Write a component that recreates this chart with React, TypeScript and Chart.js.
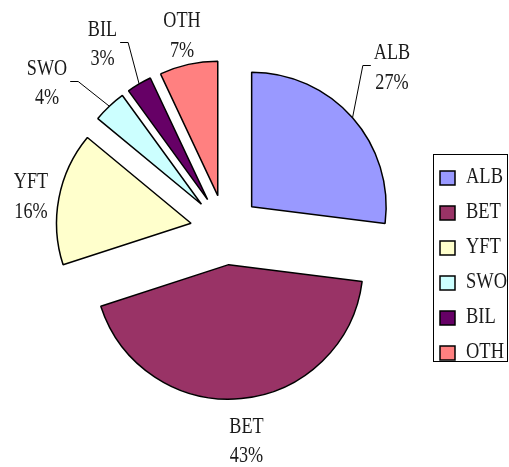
import React, { useEffect, useRef } from "react";
import { Chart, registerables } from "chart.js";

Chart.register(...registerables);

// ---- data ----
const categories = ["ALB", "BET", "YFT", "SWO", "BIL", "OTH"];
const shares = [27, 43, 16, 4, 3, 7];
const colors = ["#9999FF", "#993366", "#FFFFCC", "#CCFFFF", "#660066", "#FF8080"];

// ---- layout / style ----
const EXPLODE = 35;
const LABEL_FONT = '23px "Liberation Serif"';
const LEGEND_FONT = '24px "Liberation Serif"';
const SX_LABEL = 0.79;
const SX_LEGEND = 0.77;
const TEXT_COLOR = "#1a1a1a";
// label block centre offsets from the pie centre; leader flag
const labelLayout = [
  { dx: 166.6, dy: -163.3, leader: true },
  { dx: 21.1, dy: 210.2, leader: false },
  { dx: -194.4, dy: -34.3, leader: false },
  { dx: -178.4, dy: -147.8, leader: true },
  { dx: -122.9, dy: -186.8, leader: true },
  { dx: -43.4, dy: -195.3, leader: false },
];

function drawText(ctx: CanvasRenderingContext2D, text: string, x: number, y: number, align: CanvasTextAlign, sx: number) {
  ctx.save();
  ctx.translate(x, y);
  ctx.scale(sx, 1);
  ctx.textAlign = align;
  ctx.textBaseline = "alphabetic";
  ctx.fillText(text, 0, 0);
  ctx.restore();
}

const explodePlugin = {
  id: "explode",
  beforeDatasetsDraw(chart: any) {
    const ctx = chart.ctx as CanvasRenderingContext2D;
    const meta = chart.getDatasetMeta(0);
    meta.data.forEach((arc: any) => {
      const mid = (arc.startAngle + arc.endAngle) / 2;
      ctx.save();
      ctx.translate(Math.cos(mid) * EXPLODE, Math.sin(mid) * EXPLODE);
      arc.draw(ctx);
      ctx.restore();
    });
    return false;
  },
};

const labelPlugin = {
  id: "pieLabels",
  afterDraw(chart: any) {
    const ctx = chart.ctx as CanvasRenderingContext2D;
    const meta = chart.getDatasetMeta(0);
    const total = shares.reduce((a, b) => a + b, 0);
    ctx.save();
    ctx.font = LABEL_FONT;
    ctx.fillStyle = TEXT_COLOR;
    ctx.strokeStyle = "#000";
    ctx.lineWidth = 1;
    meta.data.forEach((arc: any, i: number) => {
      const { x, y, startAngle, endAngle, outerRadius } = arc.getProps(
        ["x", "y", "startAngle", "endAngle", "outerRadius"],
        true
      );
      const mid = (startAngle + endAngle) / 2;
      const lay = labelLayout[i];
      const cx = x + lay.dx;
      const cy = y + lay.dy;
      const name = categories[i];
      const pct = Math.round((shares[i] / total) * 100) + "%";
      drawText(ctx, name, cx, cy - 7.5, "center", SX_LABEL);
      drawText(ctx, pct, cx, cy + 22, "center", SX_LABEL);
      if (lay.leader) {
        const w = Math.max(ctx.measureText(name).width, ctx.measureText(pct).width) * SX_LABEL;
        const ex = x + Math.cos(mid) * EXPLODE;
        const ey = y + Math.sin(mid) * EXPLODE;
        const sx = ex + Math.cos(mid) * outerRadius;
        const sy = ey + Math.sin(mid) * outerRadius;
        const right = lay.dx > 0;
        const edge = right ? cx - w / 2 : cx + w / 2;
        const elbowX = right ? edge - 11 : edge + 11;
        const endX = right ? edge - 3 : edge + 3;
        const ly = Math.round(cy - 1.5) + 0.5;
        ctx.beginPath();
        ctx.moveTo(sx, sy);
        ctx.lineTo(elbowX, ly);
        ctx.lineTo(endX, ly);
        ctx.stroke();
      }
    });
    ctx.restore();

    // legend
    ctx.save();
    ctx.strokeStyle = "#000";
    ctx.lineWidth = 1;
    ctx.strokeRect(433.5, 154.5, 74, 207);
    ctx.font = LEGEND_FONT;
    categories.forEach((c, i) => {
      const top = 171 + i * 35;
      ctx.fillStyle = colors[i];
      ctx.fillRect(440, top, 15, 14);
      ctx.lineWidth = 1.5;
      ctx.strokeStyle = "#000";
      ctx.strokeRect(440, top, 15, 14);
      ctx.fillStyle = TEXT_COLOR;
      drawText(ctx, c, 466, top + 11.5, "left", SX_LEGEND);
    });
    ctx.restore();
  },
};

export default function App() {
  const ref = useRef<HTMLCanvasElement | null>(null);
  useEffect(() => {
    if (!ref.current) return;
    const chart = new Chart(ref.current, {
      type: "pie",
      data: {
        labels: categories,
        datasets: [
          {
            data: shares,
            backgroundColor: colors,
            borderColor: "#000",
            borderWidth: 1.5,
            radius: 134.5,
          } as any,
        ],
      },
      options: {
        responsive: false,
        animation: false,
        layout: { padding: { left: 0, top: 0, right: 58.2, bottom: 7.4 } },
        plugins: {
          legend: { display: false },
          tooltip: { enabled: false },
        },
      },
      plugins: [explodePlugin, labelPlugin],
    });
    return () => chart.destroy();
  }, []);
  return (
    <div style={{ position: "absolute", left: 0, top: 0, width: 509, height: 467, background: "#fff" }}>
      <canvas ref={ref} width={509} height={467} style={{ width: 509, height: 467, display: "block" }} />
    </div>
  );
}
